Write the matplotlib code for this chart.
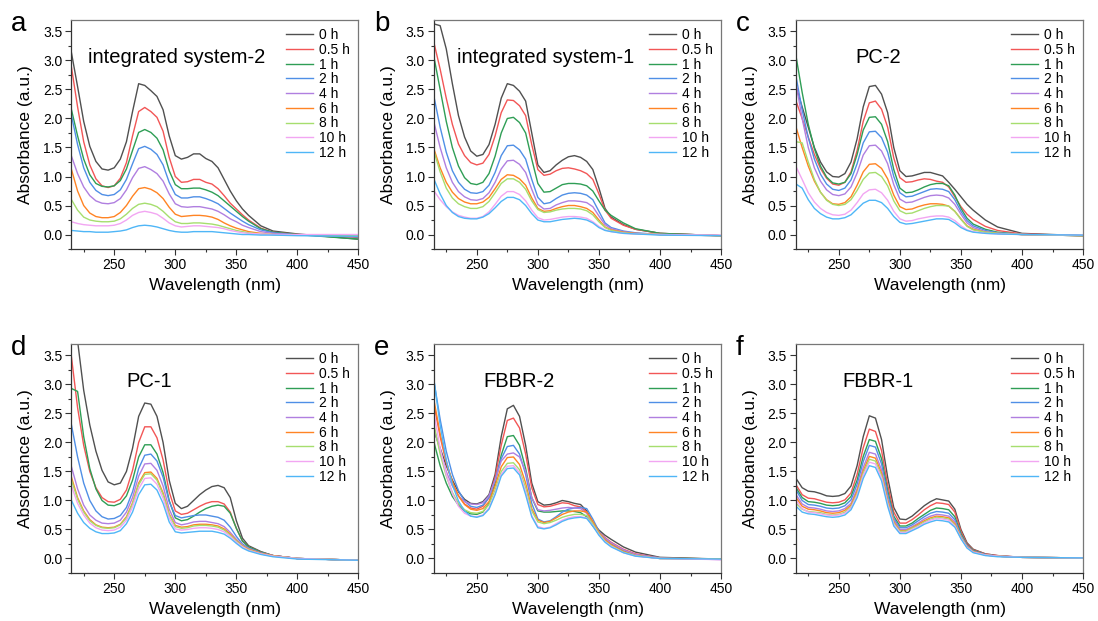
# UV-vis absorbance spectra of six samples recorded over 12 h
import matplotlib.pyplot as plt
from matplotlib.ticker import MultipleLocator

plt.rcParams['font.family'] = ['Liberation Sans', 'DejaVu Sans']

wavelength = [215, 220, 225, 230, 235, 240, 245, 250, 255, 260, 265, 270, 275, 280,
              285, 290, 295, 300, 305, 310, 315, 320, 325, 330, 335, 340, 345, 350,
              355, 360, 370, 380, 400, 450]

times = ['0 h', '0.5 h', '1 h', '2 h', '4 h', '6 h', '8 h', '10 h', '12 h']
colors = ['#505050', '#f25656', '#2f9e55', '#4f8fe6', '#b07fe0',
          '#ff8424', '#a6de6e', '#f2a6f2', '#4fb6f7']

# absorbance, one row per time point
abs_a = [
    [3.13, 2.55, 1.95, 1.52, 1.26, 1.13, 1.11, 1.15, 1.3, 1.6, 2.12, 2.6, 2.57, 2.48, 2.38, 2.15, 1.7, 1.36, 1.3, 1.33, 1.39, 1.39, 1.31, 1.26, 1.15, 0.95, 0.75, 0.58, 0.44, 0.33, 0.15, 0.06, 0.01, -0.08],
    [2.88, 2.2, 1.6, 1.2, 0.96, 0.84, 0.81, 0.84, 0.97, 1.24, 1.7, 2.12, 2.19, 2.12, 2.02, 1.78, 1.33, 1.0, 0.9, 0.91, 0.95, 0.95, 0.9, 0.87, 0.79, 0.67, 0.54, 0.44, 0.34, 0.25, 0.11, 0.04, 0.0, -0.05],
    [2.15, 1.7, 1.3, 1.03, 0.88, 0.83, 0.82, 0.84, 0.93, 1.13, 1.45, 1.76, 1.81, 1.76, 1.66, 1.46, 1.1, 0.86, 0.79, 0.79, 0.8, 0.8, 0.77, 0.73, 0.67, 0.58, 0.49, 0.4, 0.31, 0.23, 0.1, 0.04, 0.0, -0.08],
    [2.05, 1.55, 1.15, 0.9, 0.76, 0.69, 0.67, 0.69, 0.77, 0.95, 1.22, 1.48, 1.52, 1.47, 1.38, 1.2, 0.9, 0.69, 0.63, 0.63, 0.65, 0.65, 0.62, 0.58, 0.53, 0.45, 0.37, 0.3, 0.23, 0.17, 0.08, 0.03, -0.01, -0.04],
    [1.35, 1.05, 0.82, 0.67, 0.58, 0.54, 0.53, 0.55, 0.62, 0.77, 0.98, 1.14, 1.17, 1.12, 1.05, 0.92, 0.7, 0.53, 0.48, 0.47, 0.48, 0.48, 0.46, 0.44, 0.4, 0.34, 0.27, 0.22, 0.16, 0.12, 0.05, 0.02, -0.01, -0.03],
    [1.12, 0.75, 0.5, 0.37, 0.31, 0.29, 0.29, 0.31, 0.38, 0.5, 0.66, 0.79, 0.81, 0.78, 0.72, 0.62, 0.47, 0.35, 0.31, 0.32, 0.33, 0.33, 0.32, 0.3, 0.26, 0.2, 0.15, 0.11, 0.08, 0.05, 0.02, 0.0, -0.01, -0.02],
    [0.6, 0.42, 0.3, 0.25, 0.23, 0.22, 0.22, 0.23, 0.27, 0.35, 0.45, 0.52, 0.54, 0.52, 0.48, 0.4, 0.3, 0.22, 0.19, 0.19, 0.2, 0.2, 0.19, 0.18, 0.16, 0.13, 0.1, 0.07, 0.05, 0.03, 0.01, 0.0, -0.01, -0.02],
    [0.22, 0.19, 0.17, 0.16, 0.15, 0.15, 0.15, 0.16, 0.19, 0.25, 0.33, 0.38, 0.4, 0.38, 0.35, 0.28, 0.2, 0.15, 0.13, 0.14, 0.15, 0.15, 0.14, 0.13, 0.12, 0.1, 0.07, 0.05, 0.03, 0.02, 0.01, 0.0, 0.0, 0.0],
    [0.07, 0.06, 0.05, 0.05, 0.04, 0.04, 0.04, 0.05, 0.06, 0.08, 0.12, 0.15, 0.16, 0.15, 0.13, 0.1, 0.07, 0.05, 0.04, 0.04, 0.05, 0.05, 0.05, 0.05, 0.04, 0.03, 0.02, 0.01, 0.0, 0.0, -0.01, -0.01, -0.02, -0.03],
]

abs_b = [
    [3.63, 3.6, 3.2, 2.6, 2.05, 1.68, 1.44, 1.35, 1.38, 1.55, 1.9, 2.35, 2.6, 2.57, 2.47, 2.3, 1.75, 1.2, 1.07, 1.1, 1.2, 1.28, 1.34, 1.36, 1.33, 1.26, 1.12, 0.8, 0.45, 0.3, 0.17, 0.09, 0.02, -0.02],
    [3.3, 2.85, 2.35, 1.9, 1.56, 1.36, 1.24, 1.2, 1.23, 1.38, 1.7, 2.1, 2.32, 2.31, 2.22, 2.05, 1.55, 1.12, 1.02, 1.04, 1.1, 1.14, 1.15, 1.13, 1.1, 1.05, 0.95, 0.7, 0.42, 0.28, 0.16, 0.09, 0.02, -0.02],
    [3.05, 2.5, 1.95, 1.5, 1.18, 0.98, 0.88, 0.86, 0.9, 1.05, 1.35, 1.75, 2.0, 2.02, 1.93, 1.75, 1.3, 0.88, 0.73, 0.74, 0.8, 0.86, 0.88, 0.88, 0.87, 0.84, 0.75, 0.58, 0.42, 0.33, 0.2, 0.1, 0.02, -0.02],
    [2.37, 1.85, 1.42, 1.1, 0.9, 0.78, 0.72, 0.71, 0.74, 0.85, 1.07, 1.36, 1.53, 1.54, 1.46, 1.3, 0.95, 0.64, 0.53, 0.55, 0.62, 0.68, 0.71, 0.72, 0.71, 0.68, 0.6, 0.4, 0.2, 0.12, 0.06, 0.03, 0.0, -0.02],
    [1.93, 1.5, 1.15, 0.9, 0.74, 0.65, 0.6, 0.59, 0.62, 0.72, 0.9, 1.13, 1.27, 1.28, 1.21, 1.07, 0.78, 0.52, 0.44, 0.45, 0.51, 0.55, 0.58, 0.58, 0.57, 0.55, 0.48, 0.32, 0.17, 0.1, 0.05, 0.02, 0.0, -0.02],
    [1.47, 1.15, 0.9, 0.73, 0.62, 0.56, 0.53, 0.53, 0.56, 0.64, 0.79, 0.95, 1.03, 1.02, 0.96, 0.85, 0.63, 0.45, 0.4, 0.41, 0.45, 0.48, 0.5, 0.5, 0.48, 0.45, 0.38, 0.25, 0.13, 0.08, 0.04, 0.02, 0.0, -0.02],
    [1.43, 1.08, 0.8, 0.63, 0.53, 0.48, 0.45, 0.45, 0.48, 0.57, 0.72, 0.88, 0.96, 0.96, 0.9, 0.78, 0.58, 0.43, 0.38, 0.39, 0.42, 0.44, 0.45, 0.45, 0.44, 0.41, 0.34, 0.22, 0.12, 0.07, 0.03, 0.01, 0.0, -0.02],
    [0.75, 0.6, 0.48, 0.39, 0.33, 0.3, 0.28, 0.28, 0.31, 0.39, 0.52, 0.66, 0.74, 0.74, 0.69, 0.58, 0.42, 0.29, 0.25, 0.26, 0.28, 0.3, 0.31, 0.31, 0.3, 0.28, 0.22, 0.14, 0.08, 0.05, 0.02, 0.01, 0.0, -0.01],
    [0.95, 0.7, 0.5, 0.38, 0.31, 0.28, 0.27, 0.27, 0.3, 0.36, 0.46, 0.57, 0.64, 0.64, 0.6, 0.5, 0.36, 0.25, 0.22, 0.22, 0.24, 0.26, 0.27, 0.28, 0.27, 0.25, 0.2, 0.12, 0.07, 0.05, 0.02, 0.01, -0.01, -0.02],
]

abs_c = [
    [2.55, 2.2, 1.85, 1.5, 1.25, 1.08, 1.0, 0.99, 1.05, 1.25, 1.65, 2.2, 2.55, 2.57, 2.42, 2.1, 1.5, 1.1, 1.0, 1.01, 1.04, 1.07, 1.07, 1.04, 1.01, 0.9, 0.78, 0.65, 0.52, 0.42, 0.25, 0.13, 0.02, -0.02],
    [2.3, 2.0, 1.68, 1.38, 1.14, 0.97, 0.87, 0.85, 0.9, 1.08, 1.45, 1.95, 2.27, 2.3, 2.16, 1.85, 1.32, 0.98, 0.9, 0.91, 0.94, 0.96, 0.95, 0.92, 0.9, 0.82, 0.65, 0.48, 0.35, 0.26, 0.14, 0.07, 0.01, -0.02],
    [3.07, 2.45, 1.9, 1.48, 1.18, 0.99, 0.89, 0.87, 0.9, 1.05, 1.38, 1.8, 2.02, 2.03, 1.9, 1.6, 1.12, 0.8, 0.72, 0.73, 0.77, 0.82, 0.86, 0.88, 0.88, 0.84, 0.68, 0.45, 0.28, 0.18, 0.09, 0.04, 0.0, -0.02],
    [2.72, 2.15, 1.67, 1.3, 1.04, 0.87, 0.78, 0.76, 0.8, 0.94, 1.22, 1.58, 1.77, 1.78, 1.67, 1.42, 1.0, 0.72, 0.65, 0.66, 0.7, 0.74, 0.78, 0.79, 0.78, 0.74, 0.6, 0.4, 0.24, 0.15, 0.07, 0.03, 0.0, -0.02],
    [2.6, 2.0, 1.5, 1.15, 0.92, 0.77, 0.69, 0.67, 0.7, 0.82, 1.06, 1.37, 1.53, 1.54, 1.44, 1.22, 0.86, 0.61, 0.55, 0.56, 0.6, 0.64, 0.67, 0.68, 0.67, 0.63, 0.52, 0.35, 0.2, 0.12, 0.05, 0.02, 0.0, -0.02],
    [1.85, 1.5, 1.18, 0.92, 0.73, 0.6, 0.53, 0.52, 0.55, 0.65, 0.85, 1.08, 1.21, 1.22, 1.14, 0.96, 0.68, 0.48, 0.43, 0.44, 0.48, 0.51, 0.53, 0.53, 0.52, 0.49, 0.4, 0.27, 0.15, 0.09, 0.04, 0.02, 0.0, -0.02],
    [1.6, 1.58, 1.25, 0.95, 0.73, 0.59, 0.52, 0.5, 0.52, 0.6, 0.76, 0.95, 1.06, 1.07, 1.0, 0.84, 0.58, 0.41, 0.36, 0.37, 0.41, 0.45, 0.48, 0.5, 0.5, 0.49, 0.4, 0.26, 0.14, 0.08, 0.04, 0.02, 0.0, -0.02],
    [1.17, 0.95, 0.72, 0.56, 0.45, 0.38, 0.34, 0.33, 0.35, 0.42, 0.55, 0.7, 0.77, 0.78, 0.72, 0.59, 0.4, 0.27, 0.23, 0.24, 0.27, 0.29, 0.31, 0.32, 0.32, 0.3, 0.24, 0.15, 0.08, 0.05, 0.02, 0.01, 0.0, -0.01],
    [0.87, 0.8, 0.6, 0.45, 0.36, 0.3, 0.27, 0.27, 0.29, 0.34, 0.44, 0.54, 0.59, 0.59, 0.55, 0.45, 0.31, 0.21, 0.18, 0.19, 0.21, 0.23, 0.25, 0.27, 0.27, 0.26, 0.2, 0.12, 0.07, 0.04, 0.02, 0.01, 0.0, -0.01],
]

abs_d = [
    [4.6, 3.75, 2.9, 2.3, 1.85, 1.52, 1.32, 1.27, 1.3, 1.5, 1.9, 2.45, 2.68, 2.66, 2.45, 2.0, 1.35, 0.95, 0.86, 0.9, 1.0, 1.1, 1.18, 1.24, 1.26, 1.22, 1.05, 0.65, 0.35, 0.22, 0.12, 0.05, 0.0, -0.03],
    [3.47, 2.6, 1.95, 1.5, 1.22, 1.05, 0.98, 0.97, 1.02, 1.18, 1.52, 2.0, 2.27, 2.27, 2.08, 1.7, 1.15, 0.82, 0.76, 0.78, 0.84, 0.9, 0.95, 0.98, 0.98, 0.94, 0.8, 0.52, 0.3, 0.2, 0.11, 0.05, 0.0, -0.03],
    [2.93, 2.88, 2.1, 1.55, 1.2, 1.0, 0.92, 0.91, 0.95, 1.08, 1.35, 1.75, 1.96, 1.96, 1.8, 1.48, 1.0, 0.7, 0.65, 0.67, 0.73, 0.8, 0.86, 0.9, 0.92, 0.9, 0.78, 0.52, 0.3, 0.2, 0.11, 0.05, 0.0, -0.03],
    [2.3, 1.75, 1.3, 1.0, 0.82, 0.72, 0.68, 0.69, 0.74, 0.88, 1.15, 1.55, 1.78, 1.8, 1.68, 1.4, 0.98, 0.74, 0.7, 0.72, 0.74, 0.75, 0.75, 0.73, 0.71, 0.66, 0.54, 0.38, 0.25, 0.18, 0.1, 0.05, 0.0, -0.03],
    [1.58, 1.2, 0.92, 0.75, 0.66, 0.61, 0.6, 0.61, 0.66, 0.8, 1.05, 1.42, 1.63, 1.64, 1.52, 1.25, 0.85, 0.62, 0.58, 0.6, 0.63, 0.64, 0.64, 0.62, 0.6, 0.55, 0.45, 0.33, 0.23, 0.17, 0.09, 0.05, 0.0, -0.03],
    [1.4, 1.05, 0.82, 0.67, 0.58, 0.54, 0.53, 0.54, 0.59, 0.72, 0.96, 1.3, 1.48, 1.49, 1.38, 1.13, 0.77, 0.57, 0.54, 0.55, 0.58, 0.59, 0.59, 0.58, 0.56, 0.51, 0.42, 0.31, 0.22, 0.16, 0.09, 0.05, 0.0, -0.03],
    [1.35, 1.02, 0.8, 0.65, 0.57, 0.53, 0.52, 0.53, 0.58, 0.7, 0.94, 1.27, 1.45, 1.46, 1.35, 1.1, 0.75, 0.55, 0.52, 0.53, 0.56, 0.57, 0.57, 0.56, 0.54, 0.49, 0.4, 0.3, 0.21, 0.15, 0.08, 0.04, 0.0, -0.03],
    [1.25, 0.95, 0.75, 0.61, 0.53, 0.49, 0.48, 0.49, 0.54, 0.66, 0.89, 1.2, 1.38, 1.39, 1.28, 1.04, 0.7, 0.51, 0.49, 0.5, 0.52, 0.53, 0.53, 0.52, 0.5, 0.46, 0.38, 0.28, 0.2, 0.14, 0.08, 0.04, 0.0, -0.03],
    [1.0, 0.78, 0.62, 0.52, 0.46, 0.43, 0.43, 0.44, 0.48, 0.6, 0.8, 1.1, 1.27, 1.28, 1.18, 0.95, 0.63, 0.46, 0.44, 0.45, 0.46, 0.47, 0.47, 0.47, 0.45, 0.42, 0.35, 0.26, 0.18, 0.13, 0.07, 0.03, -0.01, -0.03],
]

abs_e = [
    [2.2, 1.9, 1.6, 1.35, 1.15, 1.02, 0.95, 0.94, 0.98, 1.1, 1.45, 2.1, 2.58, 2.64, 2.45, 1.95, 1.3, 0.98, 0.92, 0.93, 0.96, 1.0, 0.98, 0.95, 0.93, 0.82, 0.62, 0.49, 0.4, 0.33, 0.2, 0.11, 0.02, -0.01],
    [2.65, 2.1, 1.65, 1.3, 1.08, 0.94, 0.87, 0.85, 0.9, 1.05, 1.4, 1.95, 2.38, 2.42, 2.25, 1.8, 1.22, 0.93, 0.89, 0.9, 0.93, 0.96, 0.95, 0.91, 0.89, 0.8, 0.6, 0.46, 0.36, 0.28, 0.16, 0.08, 0.01, -0.01],
    [2.0, 1.6, 1.3, 1.07, 0.92, 0.82, 0.77, 0.76, 0.8, 0.95, 1.3, 1.78, 2.1, 2.12, 1.95, 1.55, 1.05, 0.82, 0.8, 0.8, 0.81, 0.82, 0.82, 0.81, 0.79, 0.72, 0.56, 0.43, 0.32, 0.25, 0.13, 0.06, 0.01, -0.01],
    [3.05, 2.4, 1.85, 1.45, 1.17, 0.99, 0.9, 0.88, 0.92, 1.05, 1.35, 1.72, 1.93, 1.95, 1.8, 1.45, 0.95, 0.68, 0.63, 0.65, 0.72, 0.8, 0.85, 0.87, 0.88, 0.86, 0.68, 0.47, 0.33, 0.24, 0.12, 0.05, 0.0, -0.01],
    [2.25, 1.85, 1.5, 1.25, 1.08, 0.98, 0.94, 0.93, 0.96, 1.08, 1.35, 1.68, 1.8, 1.82, 1.75, 1.5, 1.05, 0.84, 0.82, 0.83, 0.85, 0.87, 0.88, 0.87, 0.86, 0.78, 0.6, 0.45, 0.35, 0.27, 0.15, 0.07, 0.01, -0.02],
    [2.72, 2.15, 1.68, 1.32, 1.08, 0.93, 0.85, 0.83, 0.86, 0.98, 1.25, 1.58, 1.74, 1.75, 1.62, 1.3, 0.86, 0.66, 0.62, 0.64, 0.7, 0.76, 0.8, 0.82, 0.82, 0.8, 0.64, 0.45, 0.32, 0.24, 0.12, 0.05, 0.0, -0.01],
    [2.3, 1.8, 1.42, 1.14, 0.95, 0.84, 0.79, 0.78, 0.81, 0.93, 1.18, 1.5, 1.64, 1.65, 1.53, 1.22, 0.82, 0.63, 0.6, 0.62, 0.66, 0.71, 0.74, 0.76, 0.76, 0.74, 0.6, 0.43, 0.3, 0.22, 0.11, 0.05, 0.0, -0.01],
    [2.5, 1.9, 1.45, 1.12, 0.9, 0.78, 0.73, 0.72, 0.75, 0.87, 1.12, 1.45, 1.59, 1.6, 1.48, 1.15, 0.74, 0.55, 0.52, 0.54, 0.6, 0.66, 0.7, 0.72, 0.72, 0.7, 0.57, 0.41, 0.29, 0.21, 0.1, 0.04, 0.0, -0.02],
    [3.07, 2.3, 1.7, 1.27, 0.99, 0.82, 0.73, 0.71, 0.74, 0.85, 1.1, 1.42, 1.55, 1.56, 1.44, 1.1, 0.72, 0.53, 0.51, 0.53, 0.58, 0.64, 0.68, 0.7, 0.71, 0.69, 0.56, 0.4, 0.28, 0.2, 0.1, 0.04, 0.0, -0.01],
]

abs_f = [
    [1.38, 1.22, 1.16, 1.15, 1.12, 1.08, 1.07, 1.08, 1.12, 1.25, 1.6, 2.1, 2.46, 2.42, 2.05, 1.4, 0.88, 0.68, 0.67, 0.73, 0.82, 0.91, 0.98, 1.03, 1.01, 0.99, 0.85, 0.5, 0.27, 0.16, 0.08, 0.05, 0.02, 0.01],
    [1.27, 1.1, 1.04, 1.03, 1.0, 0.97, 0.96, 0.97, 1.01, 1.13, 1.45, 1.91, 2.23, 2.19, 1.86, 1.27, 0.8, 0.61, 0.61, 0.67, 0.75, 0.84, 0.91, 0.96, 0.95, 0.93, 0.8, 0.47, 0.25, 0.15, 0.08, 0.05, 0.02, 0.01],
    [1.22, 1.05, 0.98, 0.97, 0.95, 0.92, 0.91, 0.92, 0.96, 1.07, 1.35, 1.76, 2.05, 2.02, 1.72, 1.17, 0.73, 0.56, 0.56, 0.61, 0.69, 0.76, 0.83, 0.87, 0.86, 0.84, 0.72, 0.43, 0.23, 0.14, 0.07, 0.04, 0.02, 0.01],
    [1.18, 1.0, 0.93, 0.92, 0.9, 0.87, 0.86, 0.87, 0.91, 1.01, 1.28, 1.67, 1.95, 1.92, 1.63, 1.11, 0.69, 0.53, 0.53, 0.58, 0.65, 0.72, 0.78, 0.81, 0.8, 0.78, 0.67, 0.4, 0.22, 0.13, 0.07, 0.04, 0.02, 0.01],
    [1.1, 0.94, 0.88, 0.87, 0.85, 0.82, 0.81, 0.82, 0.86, 0.95, 1.2, 1.57, 1.83, 1.8, 1.53, 1.04, 0.66, 0.5, 0.5, 0.55, 0.61, 0.68, 0.73, 0.76, 0.75, 0.73, 0.63, 0.38, 0.21, 0.12, 0.06, 0.04, 0.02, 0.01],
    [1.05, 0.9, 0.85, 0.84, 0.82, 0.79, 0.78, 0.79, 0.83, 0.92, 1.16, 1.51, 1.76, 1.73, 1.47, 1.0, 0.63, 0.48, 0.48, 0.53, 0.59, 0.65, 0.7, 0.73, 0.72, 0.7, 0.6, 0.37, 0.2, 0.12, 0.06, 0.04, 0.02, 0.01],
    [0.95, 0.85, 0.81, 0.8, 0.79, 0.76, 0.75, 0.76, 0.8, 0.89, 1.12, 1.47, 1.71, 1.68, 1.43, 0.97, 0.61, 0.47, 0.47, 0.52, 0.57, 0.63, 0.68, 0.71, 0.7, 0.68, 0.58, 0.36, 0.19, 0.11, 0.06, 0.04, 0.02, 0.01],
    [1.0, 0.86, 0.8, 0.79, 0.77, 0.75, 0.74, 0.75, 0.78, 0.87, 1.09, 1.43, 1.66, 1.63, 1.39, 0.94, 0.59, 0.45, 0.45, 0.5, 0.55, 0.61, 0.66, 0.69, 0.68, 0.66, 0.56, 0.35, 0.19, 0.11, 0.06, 0.04, 0.02, 0.01],
    [0.9, 0.8, 0.77, 0.76, 0.74, 0.72, 0.71, 0.72, 0.75, 0.84, 1.05, 1.38, 1.6, 1.57, 1.34, 0.9, 0.56, 0.43, 0.43, 0.48, 0.53, 0.59, 0.63, 0.66, 0.65, 0.63, 0.54, 0.34, 0.18, 0.1, 0.05, 0.03, 0.02, 0.01],
]

panels = [
    ('a', 'integrated system-2', abs_a, 0.057),
    ('b', 'integrated system-1', abs_b, 0.08),
    ('c', 'PC-2', abs_c, 0.205),
    ('d', 'PC-1', abs_d, 0.193),
    ('e', 'FBBR-2', abs_e, 0.172),
    ('f', 'FBBR-1', abs_f, 0.162),
]

# axes boxes in figure fractions: [left, bottom, width, height]
lefts = [0.0651, 0.3953, 0.7250]
bottoms = [0.599, 0.0773]
W, H = 0.2614, 0.369

fig = plt.figure(figsize=(10.98, 6.21), dpi=100)

for i, (letter, name, spectra, tx) in enumerate(panels):
    row, col = divmod(i, 3)
    ax = fig.add_axes([lefts[col], bottoms[row], W, H])
    for k in range(len(times)):
        ax.plot(wavelength, spectra[k], color=colors[k], lw=1.0, label=times[k])

    ax.set_xlim(215, 450)
    ax.set_ylim(-0.25, 3.7)
    ax.xaxis.set_major_locator(MultipleLocator(50))
    ax.xaxis.set_minor_locator(MultipleLocator(25))
    ax.yaxis.set_major_locator(MultipleLocator(0.5))
    ax.yaxis.set_minor_locator(MultipleLocator(0.25))
    ax.yaxis.set_major_formatter(plt.FormatStrFormatter('%.1f'))
    ax.tick_params(which='both', direction='out', top=False, right=False,
                   labelsize=10, color='#333333', width=0.8)
    ax.tick_params(which='major', length=4, pad=2.5)
    ax.tick_params(which='minor', length=2.5)
    for side in ['top', 'right']:
        ax.spines[side].set_color('#777777')
    for side in ['left', 'bottom']:
        ax.spines[side].set_color('#333333')
    for s in ax.spines.values():
        s.set_linewidth(0.9)

    ax.set_xlabel('Wavelength (nm)', fontsize=12.5, labelpad=4)
    ax.set_ylabel('Absorbance (a.u.)', fontsize=12.5, labelpad=7)

    ax.text(tx, 0.835, name, transform=ax.transAxes, fontsize=14.5,
            ha='left', va='center')
    ax.text(-0.21, 1.04, letter, transform=ax.transAxes, fontsize=20,
            ha='left', va='top')

    ax.legend(loc='upper right', frameon=False, fontsize=10, handlelength=1.95,
              handletextpad=0.45, labelspacing=0.05, borderaxespad=0.5,
              borderpad=0.1)

fig.savefig('out.png', dpi=100)
